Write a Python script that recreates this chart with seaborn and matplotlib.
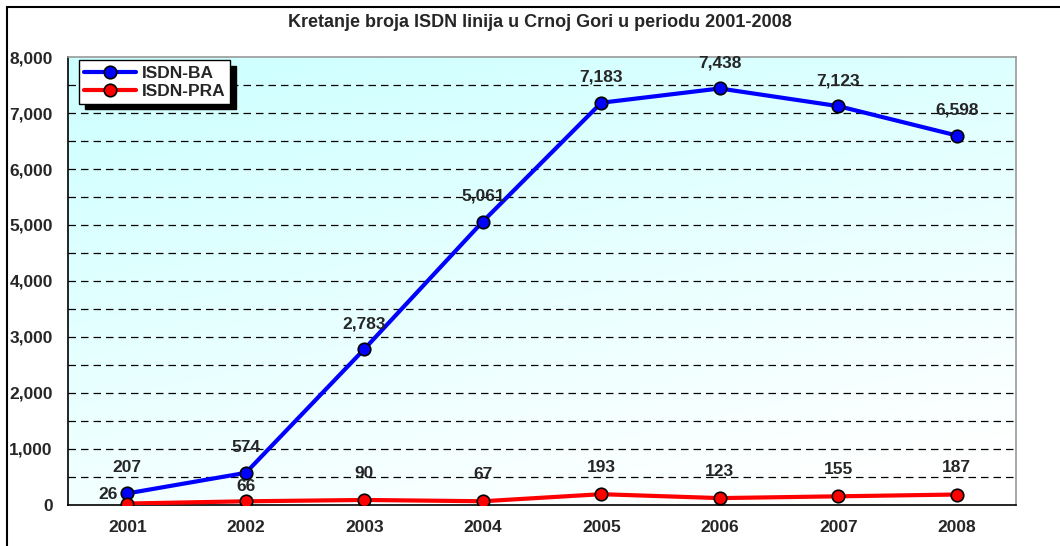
import matplotlib.pyplot as plt
import numpy as np
import pandas as pd
import seaborn as sns
from matplotlib.patches import Rectangle
from matplotlib.ticker import FuncFormatter, MultipleLocator

years = ["2001", "2002", "2003", "2004", "2005", "2006", "2007", "2008"]
isdn_ba = [207, 574, 2783, 5061, 7183, 7438, 7123, 6598]
isdn_pra = [26, 66, 90, 67, 193, 123, 155, 187]

sns.set_style("white")
plt.rcParams["font.family"] = ["Liberation Sans", "DejaVu Sans"]

df = pd.DataFrame({"year": years * 2,
                   "x": list(range(len(years))) * 2,
                   "value": isdn_ba + isdn_pra,
                   "series": ["ISDN-BA"] * len(years) + ["ISDN-PRA"] * len(years)})

fig = plt.figure(figsize=(10.6, 5.46), dpi=100)
ax = fig.add_axes([0.0642, 0.0751, 0.8943, 0.8205])

# gradient background of the plot area
gx, gy = np.meshgrid(np.linspace(0, 1, 200), np.linspace(0, 1, 200))
t = np.clip(0.75 * gy + 0.35 * (1 - gx) - 0.1, 0, 1)
top = np.array([0.80, 1.0, 1.0])
bottom = np.array([1.0, 1.0, 1.0])
img = bottom + (top - bottom) * t[..., None]
ax.imshow(img, extent=(-0.5, 7.5, 0, 8000), origin="lower", aspect="auto", zorder=0)

sns.lineplot(data=df, x="x", y="value", hue="series",
             palette={"ISDN-BA": "#0000FF", "ISDN-PRA": "#FF0000"},
             marker="o", markersize=9, markeredgecolor="black", markeredgewidth=1.2,
             linewidth=3, ax=ax, zorder=3)

ax.set_xlim(-0.5, 7.5)
ax.set_ylim(0, 8000)
ax.yaxis.set_major_locator(MultipleLocator(1000))
ax.yaxis.set_minor_locator(MultipleLocator(500))
ax.yaxis.set_major_formatter(FuncFormatter(lambda v, p: f"{int(v):,}"))
ax.set_xticks(range(len(years)))
ax.set_xticklabels(years)
ax.set_xticks(np.arange(-0.5, 8, 1), minor=True)
ax.tick_params(axis="x", which="major", length=0, pad=11)
ax.tick_params(axis="x", which="minor", length=6, width=1, direction="out")
ax.tick_params(axis="y", which="major", length=5, width=1, direction="out", pad=6)
ax.tick_params(axis="y", which="minor", length=0)
for lab in ax.get_xticklabels() + ax.get_yticklabels():
    lab.set_fontweight("bold")
    lab.set_fontsize(12.5)
ax.set_xlabel("")
ax.set_ylabel("")

for v in range(500, 8000, 500):
    ax.axhline(v, color="black", linestyle=(0, (6, 4)), linewidth=0.9, zorder=1)

for s in ["left", "bottom"]:
    ax.spines[s].set_color("black")
    ax.spines[s].set_linewidth(1.2)
for s in ["top", "right"]:
    ax.spines[s].set_color("#999999")
    ax.spines[s].set_linewidth(1.2)

# value labels
lbl = dict(textcoords="offset points", fontsize=12.5, fontweight="bold", zorder=5)
for i, v in enumerate(isdn_ba):
    ax.annotate(f"{v:,}", (i, v), xytext=(0, 13), ha="center", va="bottom", **lbl)
for i, v in enumerate(isdn_pra):
    if i == 0:
        ax.annotate(f"{v:,}", (i, v), xytext=(-7, 1), ha="right", va="bottom", **lbl)
    elif i == 1:
        ax.annotate(f"{v:,}", (i, v), xytext=(0, 5), ha="center", va="bottom", **lbl)
    else:
        ax.annotate(f"{v:,}", (i, v), xytext=(0, 14), ha="center", va="bottom", **lbl)

leg = ax.legend(loc="upper left", bbox_to_anchor=(0.008, 1.0), frameon=True,
                fancybox=False, shadow={"color": "black", "alpha": 1, "ox": 4, "oy": -4},
                prop={"weight": "bold", "size": 12.5}, handlelength=3.0,
                borderpad=0.3, labelspacing=0.15, handletextpad=0.3,
                borderaxespad=0.2)
leg.get_frame().set_edgecolor("black")
leg.get_frame().set_linewidth(1)
leg.get_frame().set_facecolor("white")
leg.get_frame().set_alpha(1)
leg.set_zorder(6)

fig.text(0.509, 0.958, "Kretanje broja ISDN linija u Crnoj Gori u periodu 2001-2008",
         ha="center", va="center", fontsize=13, fontweight="bold")

fig.patches.append(Rectangle((0.0066, -0.01), 1.01, 0.9975, transform=fig.transFigure,
                             fill=False, edgecolor="black", linewidth=1.5))

fig.savefig("out.png", dpi=100)
